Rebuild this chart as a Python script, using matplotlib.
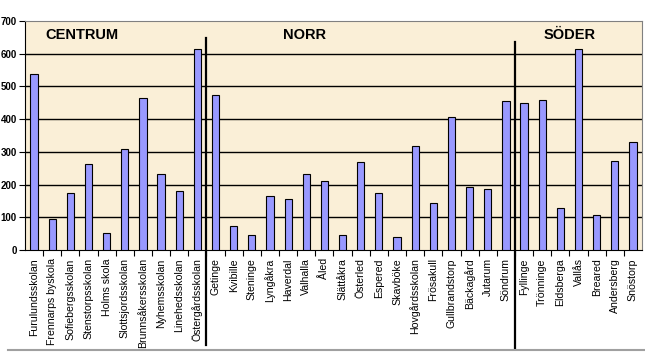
import matplotlib.pyplot as plt
from matplotlib.lines import Line2D

schools = ['Furulundsskolan', 'Frennarps byskola', 'Sofiebergsskolan', 'Stenstorpsskolan',
           'Holms skola', 'Slottsjordsskolan', 'Brunnsåkersskolan', 'Nyhemsskolan',
           'Linehedsskolan', 'Östergårdsskolan',
           'Getinge', 'Kvibille', 'Steninge', 'Lyngåkra', 'Haverdal', 'Valhalla', 'Åled',
           'Slättåkra', 'Österled', 'Espered', 'Skavböke', 'Hovgårdsskolan', 'Frösakull',
           'Gullbrandstorp', 'Bäckagård', 'Jutarum', 'Söndrum',
           'Fyllinge', 'Trönninge', 'Eldsberga', 'Vallås', 'Breared', 'Andersberg', 'Snöstorp']
values = [538, 94, 174, 262, 51, 308, 465, 232, 180, 615,
          474, 72, 45, 164, 155, 232, 210, 45, 269, 174, 39, 318, 143, 407, 192, 186, 456,
          449, 459, 128, 615, 106, 272, 330]
areas = ['CENTRUM', 'NORR', 'SÖDER']

plt.rcParams['font.family'] = ['Liberation Sans', 'DejaVu Sans']

fig = plt.figure(figsize=(6.45, 3.54), dpi=100)
ax = fig.add_axes([25 / 645, 1 - 250 / 354, 617 / 645, 229 / 354])
ax.set_facecolor('#faefd7')

pos = list(range(len(schools)))
ax.bar(pos, values, width=0.4, color='#9999ff', edgecolor='black', linewidth=0.8, zorder=3)

ax.set_xlim(-0.5, len(schools) - 0.5)
ax.set_ylim(0, 700)
ax.set_yticks(range(0, 701, 100))
ax.set_yticklabels([str(v) for v in range(0, 701, 100)], fontsize=7, fontweight='bold')
for v in range(100, 700, 100):
    ax.axhline(v, color='black', linewidth=1, zorder=1)

ax.set_xticks(pos)
ax.set_xticklabels(schools, rotation=90, fontsize=7.6)
ax.set_xticks([p + 0.5 for p in pos[:-1]], minor=True)
ax.tick_params(axis='x', which='major', length=0, pad=6)
ax.tick_params(axis='x', which='minor', length=4, width=0.8, direction='out')
ax.tick_params(axis='y', length=4, width=0.8, pad=2)

for s in ['top', 'right']:
    ax.spines[s].set_color('#808080')
for s in ['left', 'bottom']:
    ax.spines[s].set_color('black')

# area separators
ax.plot([9.5, 9.5], [-290, 648], color='black', linewidth=1.6, clip_on=False, zorder=4)
ax.plot([26.5, 26.5], [-300, 636], color='black', linewidth=1.6, clip_on=False, zorder=4)

# area titles
ax.text(2.64, 657, areas[0], ha='center', va='center', fontsize=10.5, fontweight='bold')
ax.text(14.9, 657, areas[1], ha='center', va='center', fontsize=10.5, fontweight='bold')
ax.text(29.53, 657, areas[2], ha='center', va='center', fontsize=10.5, fontweight='bold')

fig.add_artist(Line2D([8 / 645, 1], [1 - 350 / 354] * 2, color='#a0a0a0', linewidth=1.5))

fig.savefig('out.png', dpi=100)
